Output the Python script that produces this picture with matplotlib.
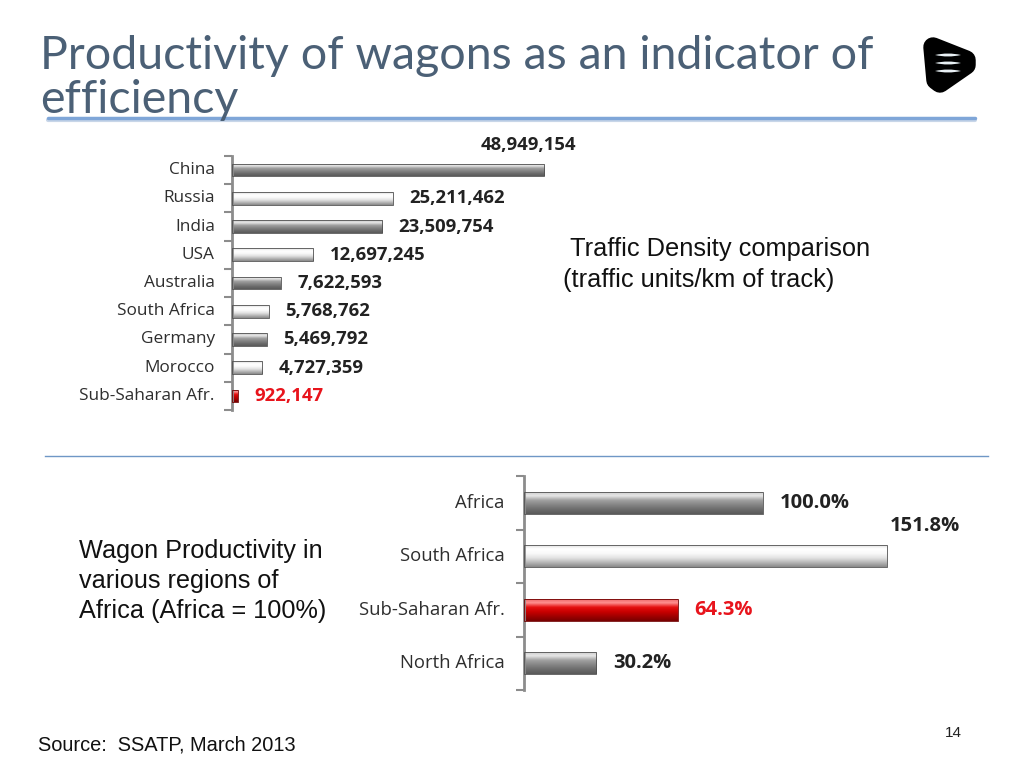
import numpy as np
import matplotlib
matplotlib.use("Agg")
import matplotlib.pyplot as plt
from matplotlib.patches import Rectangle, Polygon, PathPatch
from matplotlib.path import Path

# data for the two charts
countries = ["China", "Russia", "India", "USA", "Australia", "South Africa",
             "Germany", "Morocco", "Sub-Saharan Afr."]
density = [48949154, 25211462, 23509754, 12697245, 7622593, 5768762,
           5469792, 4727359, 922147]
density_style = ["dark", "light", "dark", "light", "dark", "light", "dark", "light", "red"]

regions = ["Africa", "South Africa", "Sub-Saharan Afr.", "North Africa"]
productivity = [100.0, 151.8, 64.3, 30.2]
productivity_style = ["dark", "light", "red", "dark"]

# vertical colour ramps that fake the bevelled bar look
ramps = {
    "dark": ["#c8c8c8", "#e6e6e6", "#a0a0a0", "#858585", "#6c6c6c", "#5a5a5a"],
    "light": ["#d8d8d8", "#ffffff", "#fafafa", "#e4e4e4", "#b8b8b8", "#8a8a8a"],
    "red": ["#e86060", "#ff9090", "#e41010", "#c80000", "#a00000", "#780000"],
}
label_col = {"dark": "#222222", "light": "#222222", "red": "#e8141c"}

W, H = 1024, 768
fig = plt.figure(figsize=(W / 100, H / 100), dpi=100)


def px_axes(left, top, right, bottom):
    return fig.add_axes([left / W, 1 - bottom / H, (right - left) / W, (bottom - top) / H])


def gradient_bars(ax, values, styles, height):
    n = len(values)
    ypos = np.arange(n)[::-1]
    bars = ax.barh(ypos, values, height=height, color="none", edgecolor="none")
    for bar, st in zip(bars, styles):
        x0, y0 = bar.get_x(), bar.get_y()
        w, h = bar.get_width(), bar.get_height()
        cmap = matplotlib.colors.LinearSegmentedColormap.from_list(st, ramps[st])
        grad = np.linspace(0, 1, 64).reshape(-1, 1)
        im = ax.imshow(grad, cmap=cmap, aspect="auto", origin="upper",
                       extent=(x0, x0 + w, y0, y0 + h), zorder=2)
        clip = Rectangle((x0, y0), w, h, transform=ax.transData)
        im.set_clip_path(clip)
        ax.add_patch(Rectangle((x0, y0), w, h, facecolor="none",
                               edgecolor="#505050" if st != "red" else "#700000",
                               linewidth=0.6, zorder=3))
    return bars, ypos


def style_axis(ax, labels, ypos, n, size):
    ax.set_ylim(-0.5, n - 0.5)
    for s in ["top", "right", "bottom"]:
        ax.spines[s].set_visible(False)
    ax.spines["left"].set_color("#8c8c8c")
    ax.spines["left"].set_linewidth(2)
    ax.set_xticks([])
    ax.set_yticks(np.arange(n + 1) - 0.5)
    ax.set_yticklabels([])
    ax.tick_params(axis="y", length=6, width=1.5, color="#8c8c8c", direction="out")
    for y, lab in zip(ypos, labels):
        ax.text(-0.045, y, lab, transform=ax.get_yaxis_transform(), ha="right",
                va="center", fontsize=size, color="#2e2e2e", family="Open Sans")
    ax.patch.set_alpha(0)


# top chart: traffic density
ax1 = px_axes(232, 156, 232 + 383, 410)
bars1, y1 = gradient_bars(ax1, density, density_style, 0.45)
ax1.set_xlim(0, 60e6)
style_axis(ax1, countries, y1, len(countries), 12.4)
for i, (v, st) in enumerate(zip(density, density_style)):
    if i == 0:
        ax1.annotate(f"{v:,}", (v, y1[i]), xytext=(23, 18), textcoords="offset points",
                     ha="right", va="center", fontsize=13.3, fontweight="bold",
                     color=label_col[st], family="Open Sans")
    else:
        ax1.annotate(f"{v:,}", (v, y1[i]), xytext=(12, 0), textcoords="offset points",
                     ha="left", va="center", fontsize=13.3, fontweight="bold",
                     color=label_col[st], family="Open Sans")

# bottom chart: wagon productivity
ax2 = px_axes(524, 476, 524 + 430, 690)
bars2, y2 = gradient_bars(ax2, productivity, productivity_style, 0.42)
ax2.set_xlim(0, 180)
style_axis(ax2, regions, y2, len(regions), 13.3)
for i, (v, st) in enumerate(zip(productivity, productivity_style)):
    if i == 1:
        ax2.annotate(f"{v:.1f}%", (v, y2[i]), xytext=(2, 22), textcoords="offset points",
                     ha="left", va="center", fontsize=14.5, fontweight="bold",
                     color=label_col[st], family="Open Sans")
    else:
        ax2.annotate(f"{v:.1f}%", (v, y2[i]), xytext=(12, 0), textcoords="offset points",
                     ha="left", va="center", fontsize=14.5, fontweight="bold",
                     color=label_col[st], family="Open Sans")

# slide decoration in pixel coordinates
deco = fig.add_axes([0, 0, 1, 1], zorder=-1)
deco.set_xlim(0, W)
deco.set_ylim(H, 0)
deco.axis("off")

deco.text(40, 78, "Productivity of wagons as an indicator of\nefficiency", fontsize=33.5,
          color="#4b6076", family="Lato", va="center", ha="left", linespacing=1.08)
deco.plot([48, 975], [120, 120], color="#c8d6e8", lw=3, solid_capstyle="round")
deco.plot([48, 975], [118, 118], color="#7fa6d8", lw=2.5, solid_capstyle="round")
deco.plot([45, 988], [456, 456], color="#6f97c6", lw=1)

deco.text(570, 249, "Traffic Density comparison", fontsize=18.3, family="Liberation Sans",
          va="center", ha="left", color="#111111")
deco.text(563, 280, "(traffic units/km of track)", fontsize=18.3, family="Liberation Sans",
          va="center", ha="left", color="#111111")
deco.text(79, 581, "Wagon Productivity in\nvarious regions of\nAfrica (Africa = 100%)",
          fontsize=18.2, family="Liberation Sans", va="center", ha="left",
          linespacing=1.33, color="#111111")
deco.text(38, 745, "Source:  SSATP, March 2013", fontsize=14.4, family="Liberation Sans",
          va="center", ha="left", color="#111111")
deco.text(953, 733, "14", fontsize=11, family="Liberation Sans", va="center",
          ha="center", color="#222222")

# logo: rounded black shape with three white stripes
logo = Polygon([(933, 47), (966, 60), (966, 65), (940, 83), (936, 80)], closed=True,
               facecolor="black", edgecolor="black", lw=14, joinstyle="round")
deco.add_patch(logo)
for yy in (55, 63, 71):
    verts = [(935, yy), (948, yy - 3), (961, yy), (948, yy + 3), (935, yy)]
    codes = [Path.MOVETO, Path.CURVE3, Path.CURVE3, Path.CURVE3, Path.CURVE3]
    deco.add_patch(PathPatch(Path(verts, codes), facecolor="#e8f0f4", edgecolor="none"))

fig.savefig("out.png", dpi=100)
